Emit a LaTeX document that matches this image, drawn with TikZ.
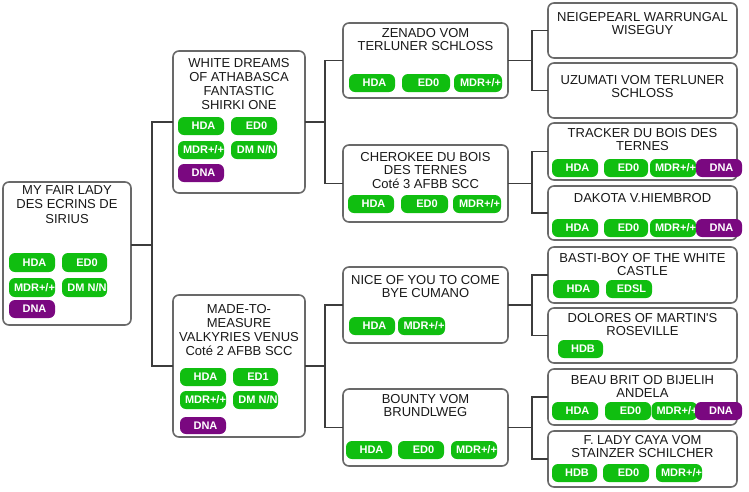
\documentclass[tikz,border=0pt]{standalone}
\usepackage{fontspec}
\setmainfont{Liberation Sans}
\definecolor{bgreen}{RGB}{16,190,16}
\definecolor{bpurple}{RGB}{122,8,128}
\definecolor{boxgray}{RGB}{105,105,105}
\definecolor{linegray}{RGB}{60,60,60}
\definecolor{txt}{RGB}{25,25,25}
\tikzset{
  pedbox/.style={draw=boxgray, line width=1.6pt, rounded corners=6pt, fill=white, inner sep=0pt, outer sep=0pt},
  ptext/.style={anchor=north, align=center, inner sep=0pt, text=txt},
  badge/.style={rounded corners=6pt, inner sep=0pt, outer sep=0pt, text=white, font=\fontsize{11}{12}\selectfont\bfseries},
  conn/.style={draw=linegray, line width=1.5pt}
}
\newcounter{bgc}
\newcommand{\bdg}[6]{\stepcounter{bgc}\node[badge,fill=#5,minimum width={#3-#1},minimum height={#4-#2}] (bg\thebgc) at ({(#1+#3)/2},{(#2+#4)/2}) {\hspace*{5pt}#6};}
\newcommand{\pbox}[5]{\node[pedbox,minimum width={#4-#2},minimum height={#5-#3}] (#1) at ({(#2+#4)/2},{(#3+#5)/2}) {};}
\newcommand{\ptxt}[5]{\node[ptext,font={\fontsize{13}{#4}\selectfont}] (#1) at (#2,#3) {#5};}
\begin{document}
\begin{tikzpicture}[x=1pt,y=-1pt]
\useasboundingbox (0,0) rectangle (749,491);
% boxes
\pbox{root}{3}{182}{131}{325}
\pbox{ga}{173}{51}{305}{193}
\pbox{gb}{173}{295}{305}{437}
\pbox{ha}{343}{23}{508}{98}
\pbox{hb}{343}{145}{508}{222}
\pbox{hc}{343}{267}{508}{343}
\pbox{hd}{343}{389}{508}{466}
\pbox{ka}{548}{3}{737}{58}
\pbox{kb}{548}{63}{737}{118}
\pbox{kc}{548}{123}{737}{180}
\pbox{kd}{548}{186}{737}{240}
\pbox{ke}{548}{247}{737}{303}
\pbox{kf}{548}{308}{737}{363}
\pbox{kg}{548}{369}{737}{425}
\pbox{kh}{548}{431}{737}{487}
% connectors
\draw[conn] ([yshift=8.5pt]root.east) -- ++(21,0) |- (ga.west);
\draw[conn] ([yshift=8.5pt]root.east) -- ++(21,0) |- (gb.west);
\draw[conn] (ga.east) -- ++(20,0) |- (ha.west);
\draw[conn] (ga.east) -- ++(20,0) |- (hb.west);
\draw[conn] (gb.east) -- ++(20,0) |- (hc.west);
\draw[conn] (gb.east) -- ++(20,0) |- (hd.west);
\draw[conn] (ha.east) -- ++(24,0) |- (ka.west);
\draw[conn] (ha.east) -- ++(24,0) |- (kb.west);
\draw[conn] (hb.east) -- ++(24,0) |- (kc.west);
\draw[conn] (hb.east) -- ++(24,0) |- (kd.west);
\draw[conn] (hc.east) -- ++(24,0) |- (ke.west);
\draw[conn] (hc.east) -- ++(24,0) |- (kf.west);
\draw[conn] (hd.east) -- ++(24,0) |- (kg.west);
\draw[conn] (hd.east) -- ++(24,0) |- (kh.west);
% texts
\ptxt{troot}{67}{185}{14.5}{MY FAIR LADY\\DES ECRINS DE\\SIRIUS}
\ptxt{tga}{239}{58}{14}{WHITE DREAMS\\OF ATHABASCA\\FANTASTIC\\SHIRKI ONE}
\ptxt{tgb}{239}{304}{14}{MADE-TO-\\MEASURE\\VALKYRIES VENUS\\Coté 2 AFBB SCC}
\ptxt{tha}{425.5}{28}{13.5}{ZENADO VOM\\TERLUNER SCHLOSS}
\ptxt{thb}{425.5}{152}{13.5}{CHEROKEE DU BOIS\\DES TERNES\\Coté 3 AFBB SCC}
\ptxt{thc}{425.5}{275}{13.5}{NICE OF YOU TO COME\\BYE CUMANO}
\ptxt{thd}{425.5}{394}{13.5}{BOUNTY VOM\\BRUNDLWEG}
\ptxt{tka}{642.5}{12}{13.5}{NEIGEPEARL WARRUNGAL\\WISEGUY}
\ptxt{tkb}{642.5}{75}{13.5}{UZUMATI VOM TERLUNER\\SCHLOSS}
\ptxt{tkc}{642.5}{128}{13.5}{TRACKER DU BOIS DES\\TERNES}
\ptxt{tkd}{642.5}{193}{13.5}{DAKOTA V.HIEMBROD}
\ptxt{tke}{642.5}{253}{13.5}{BASTI-BOY OF THE WHITE\\CASTLE}
\ptxt{tkf}{642.5}{313}{13.5}{DOLORES OF MARTIN\textquotesingle S\\ROSEVILLE}
\ptxt{tkg}{642.5}{375}{13.5}{BEAU BRIT OD BIJELIH\\ANDELA}
\ptxt{tkh}{642.5}{435}{13.5}{F. LADY CAYA VOM\\STAINZER SCHILCHER}
% badges
\bdg{9}{253}{55}{272}{bgreen}{HDA}
\bdg{62}{253}{107}{272}{bgreen}{ED0}
\bdg{9}{278}{55}{297}{bgreen}{MDR+/+}
\bdg{62}{278}{107}{297}{bgreen}{DM N/N}
\bdg{9}{300}{55}{318}{bpurple}{DNA}
%
\bdg{178}{117}{224}{135}{bgreen}{HDA}
\bdg{231}{117}{277}{135}{bgreen}{ED0}
\bdg{178}{141}{224}{159}{bgreen}{MDR+/+}
\bdg{231}{141}{277}{159}{bgreen}{DM N/N}
\bdg{178}{164}{224}{182}{bpurple}{DNA}
%
\bdg{180}{368}{226}{386}{bgreen}{HDA}
\bdg{233}{368}{278}{386}{bgreen}{ED1}
\bdg{180}{391}{226}{409}{bgreen}{MDR+/+}
\bdg{233}{391}{278}{409}{bgreen}{DM N/N}
\bdg{180}{417}{226}{434}{bpurple}{DNA}
%
\bdg{349}{74}{395}{92}{bgreen}{HDA}
\bdg{402}{74}{450}{92}{bgreen}{ED0}
\bdg{454}{74}{502}{92}{bgreen}{MDR+/+}
%
\bdg{348}{195}{394}{213}{bgreen}{HDA}
\bdg{401}{195}{448}{213}{bgreen}{ED0}
\bdg{453}{195}{501}{213}{bgreen}{MDR+/+}
%
\bdg{349}{317}{395}{335}{bgreen}{HDA}
\bdg{398}{317}{445}{335}{bgreen}{MDR+/+}
%
\bdg{346}{441}{392}{459}{bgreen}{HDA}
\bdg{398}{441}{444}{459}{bgreen}{ED0}
\bdg{451}{441}{497}{459}{bgreen}{MDR+/+}
%
\bdg{552}{159}{598}{177}{bgreen}{HDA}
\bdg{604}{159}{648}{177}{bgreen}{ED0}
\bdg{650}{159}{696}{177}{bgreen}{MDR+/+}
\bdg{696}{159}{742}{177}{bpurple}{DNA}
%
\bdg{552}{219}{598}{237}{bgreen}{HDA}
\bdg{604}{219}{648}{237}{bgreen}{ED0}
\bdg{650}{219}{696}{237}{bgreen}{MDR+/+}
\bdg{696}{219}{742}{237}{bpurple}{DNA}
%
\bdg{553}{280}{599}{298}{bgreen}{HDA}
\bdg{606}{280}{652}{298}{bgreen}{EDSL}
%
\bdg{558}{340}{603}{358}{bgreen}{HDB}
%
\bdg{552}{402}{598}{420}{bgreen}{HDA}
\bdg{605}{402}{651}{420}{bgreen}{ED0}
\bdg{652}{402}{697}{420}{bgreen}{MDR+/+}
\bdg{695}{402}{742}{420}{bpurple}{DNA}
%
\bdg{552}{464}{597}{482}{bgreen}{HDB}
\bdg{603}{464}{649}{482}{bgreen}{ED0}
\bdg{656}{464}{702}{482}{bgreen}{MDR+/+}
\end{tikzpicture}
\end{document}
